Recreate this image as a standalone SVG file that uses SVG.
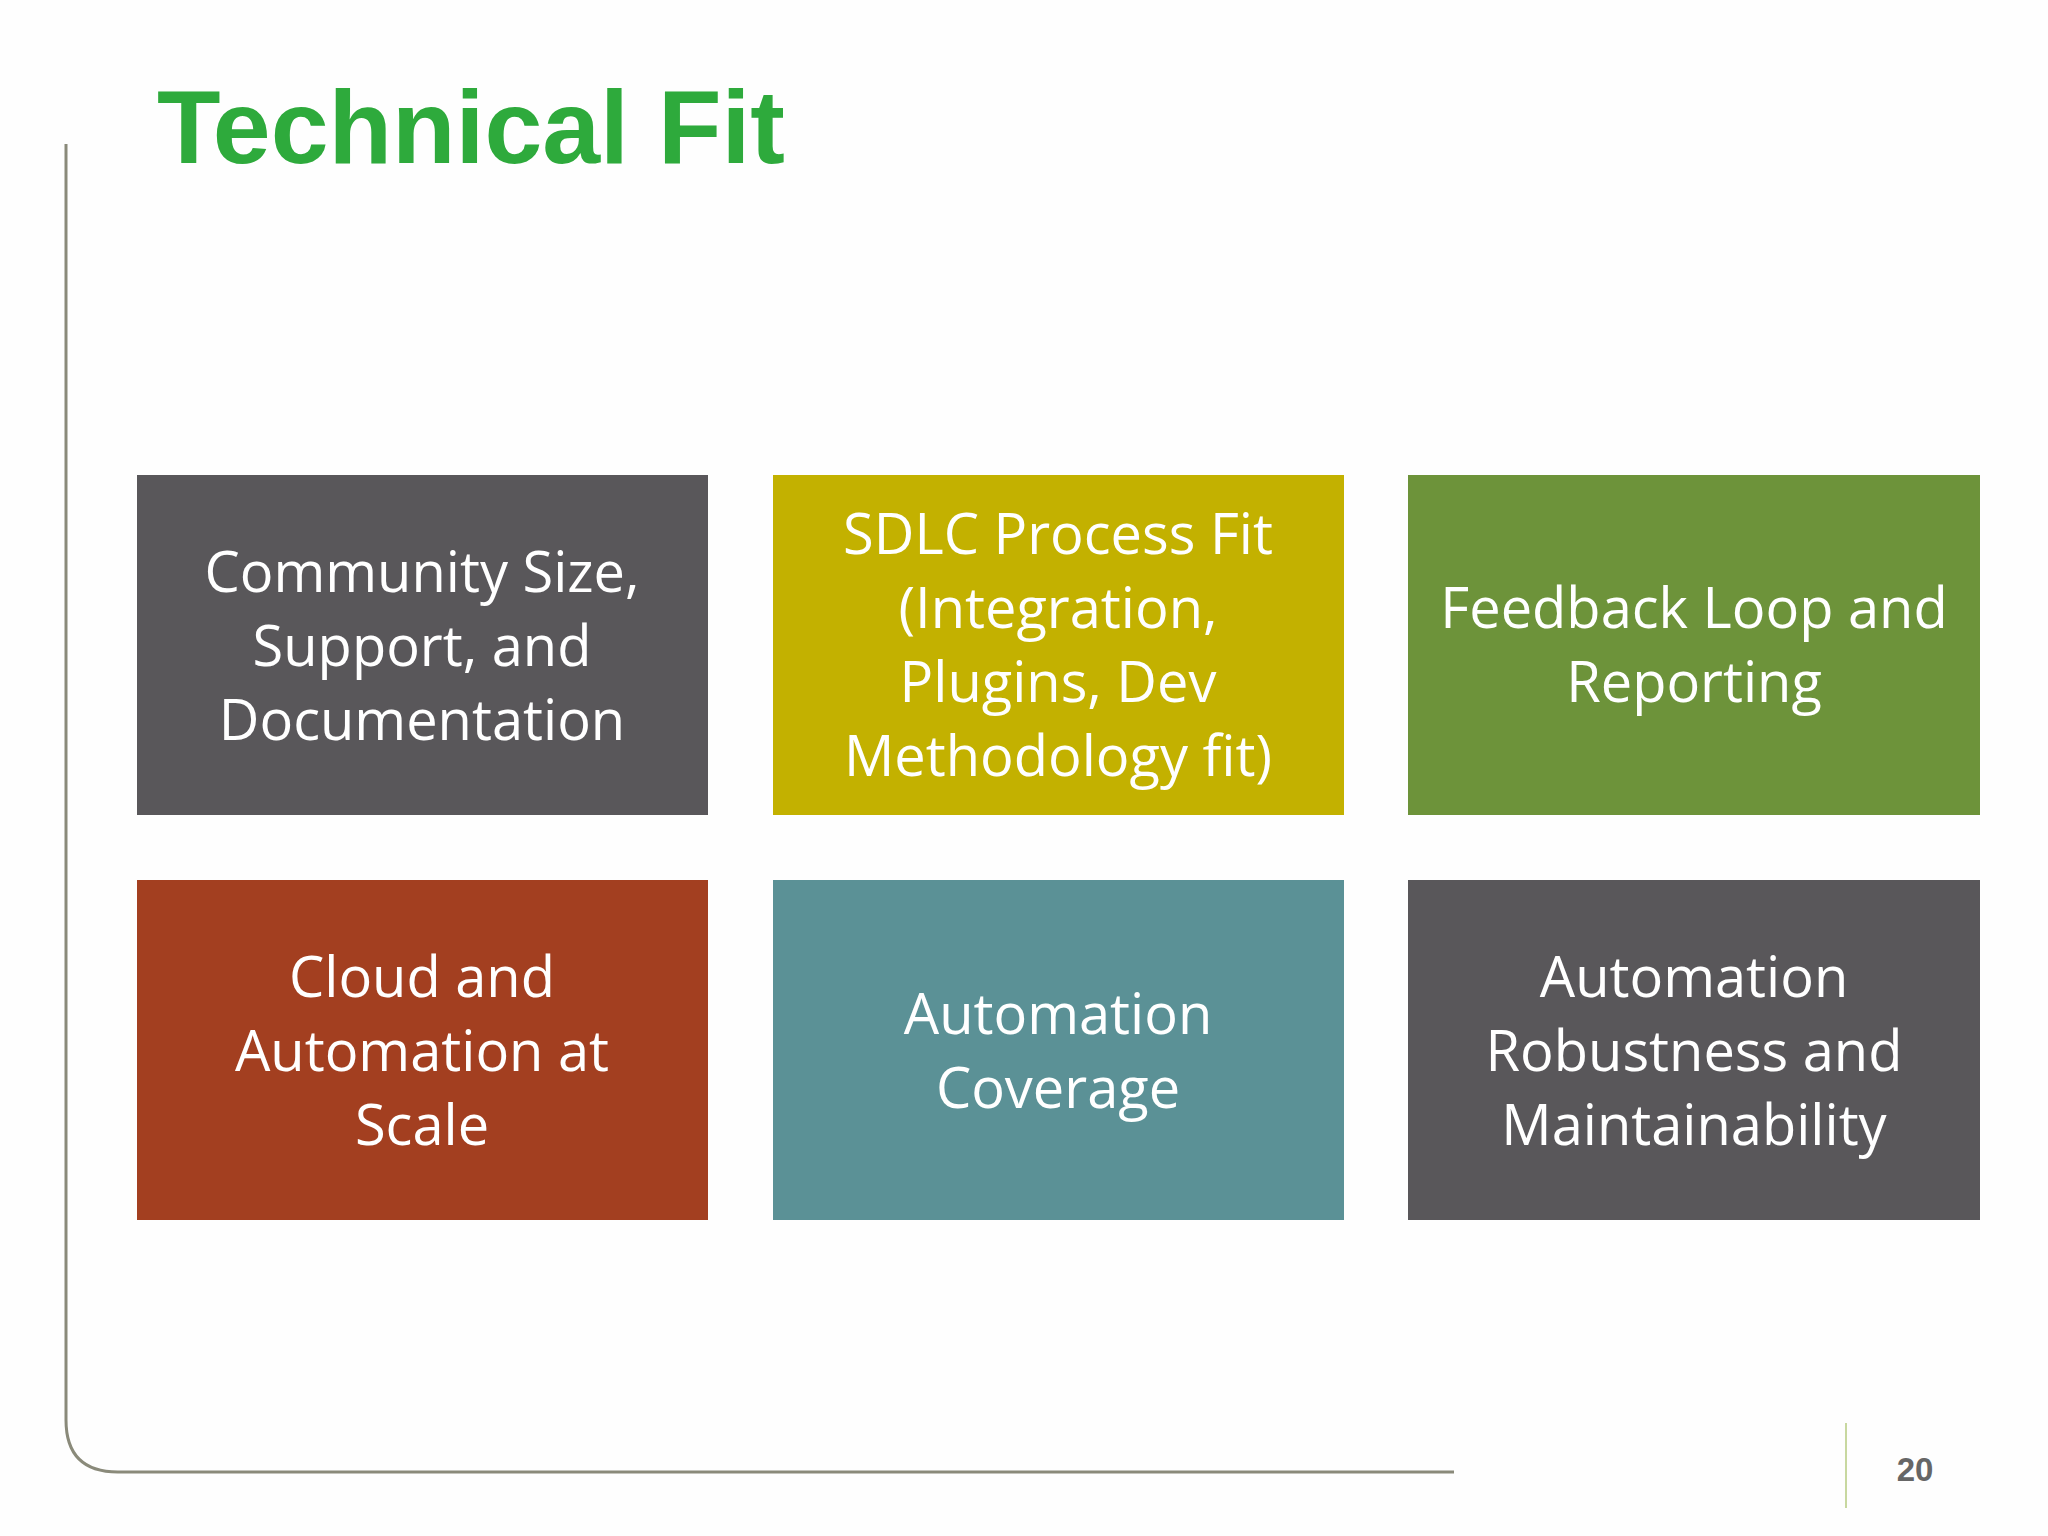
<svg xmlns="http://www.w3.org/2000/svg" width="2048" height="1536" viewBox="0 0 2048 1536">
<style>
.t{font-family:"Open Sans","Noto Sans",sans-serif;font-size:56px;fill:#fff;text-anchor:middle}
</style>
<rect width="2048" height="1536" fill="#fefefe"/>
<text x="157" y="163" font-family="Liberation Sans,Arial,sans-serif" font-weight="bold" font-size="104" fill="#2EAA3C">Technical Fit</text>
<path d="M66 144 V1420 Q66 1472 118 1472 H1454" fill="none" stroke="#8a8a7a" stroke-width="3"/>
<line x1="1846" y1="1423" x2="1846" y2="1508" stroke="#c8d8a0" stroke-width="2"/>
<text x="1915" y="1481" font-family="Liberation Sans,Arial,sans-serif" font-weight="bold" font-size="33" fill="#666" text-anchor="middle">20</text>
<g id="n1"><rect x="137" y="475" width="571" height="340" fill="#59575A"/>
<text class="t" x="422"><tspan x="422" y="592">Community Size,</tspan><tspan x="422" y="666">Support, and</tspan><tspan x="422" y="740">Documentation</tspan></text></g>
<g id="n2"><rect x="773" y="475" width="571" height="340" fill="#C3B100"/>
<text class="t"><tspan x="1058" y="554">SDLC Process Fit</tspan><tspan x="1058" y="628">(Integration,</tspan><tspan x="1058" y="702">Plugins, Dev</tspan><tspan x="1058" y="776">Methodology fit)</tspan></text></g>
<g id="n3"><rect x="1408" y="475" width="572" height="340" fill="#6D933A"/>
<text class="t"><tspan x="1694" y="628">Feedback Loop and</tspan><tspan x="1694" y="702">Reporting</tspan></text></g>
<g id="n4"><rect x="137" y="880" width="571" height="340" fill="#A33F20"/>
<text class="t"><tspan x="422" y="997">Cloud and</tspan><tspan x="422" y="1071">Automation at</tspan><tspan x="422" y="1145">Scale</tspan></text></g>
<g id="n5"><rect x="773" y="880" width="571" height="340" fill="#5B9196"/>
<text class="t"><tspan x="1058" y="1034">Automation</tspan><tspan x="1058" y="1108">Coverage</tspan></text></g>
<g id="n6"><rect x="1408" y="880" width="572" height="340" fill="#59575A"/>
<text class="t"><tspan x="1694" y="997">Automation</tspan><tspan x="1694" y="1071">Robustness and</tspan><tspan x="1694" y="1145">Maintainability</tspan></text></g>
<g id="connectors"/>
</svg>
